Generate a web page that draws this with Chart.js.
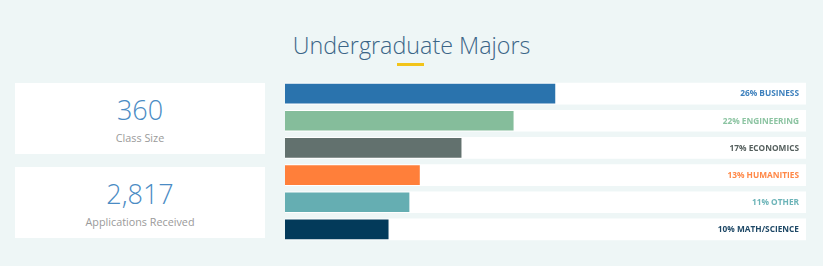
<!DOCTYPE html>
<html>
<head>
<meta charset="utf-8">
<script src="https://cdn.jsdelivr.net/npm/chart.js@4"></script>
<style>
  html, body { margin: 0; padding: 0; }
  body {
    width: 823px; height: 266px; background: #eef6f6; position: relative; overflow: hidden;
    font-family: "Open Sans", sans-serif;
  }
  .title {
    position: absolute; left: 0; width: 823px; top: 29px; text-align: center;
    font-size: 23.3px; font-weight: 300; color: #3b6587;
  }
  .underline { position: absolute; left: 397px; top: 63px; width: 27px; height: 3px; background: #f2c41a; }
  .card { position: absolute; left: 15px; width: 250px; height: 71px; background: #fff; text-align: center; }
  .card .num { font-size: 27px; font-weight: 300; color: #4a8bc4; margin-top: 10px; line-height: 34px; }
  .card .lbl { font-size: 10.8px; color: #9a9a9a; line-height: 16px; margin-top: 3px; }
  #chartBox { position: absolute; left: 285px; top: 80px; width: 521px; height: 163px; }
</style>
</head>
<body>
<div class="title">Undergraduate Majors</div>
<div class="underline"></div>
<div class="card" style="top:83px"><div class="num" id="stat0"></div><div class="lbl" id="statLbl0"></div></div>
<div class="card" style="top:167px"><div class="num" id="stat1"></div><div class="lbl" id="statLbl1"></div></div>
<div id="chartBox"><canvas id="majorsChart"></canvas></div>
<script>
// stats on the left
const statValues = ['360', '2,817'];
const statLabels = ['Class Size', 'Applications Received'];

// majors
const majors = ['BUSINESS', 'ENGINEERING', 'ECONOMICS', 'HUMANITIES', 'OTHER', 'MATH/SCIENCE'];
const percentLabels = ['26%', '22%', '17%', '13%', '11%', '10%'];
const barValues = [26, 22, 17, 13, 12, 10];
const trackValues = [50, 50, 50, 50, 50, 50];
const barColors = ['#2a73ad', '#85bd9b', '#62716e', '#ff7f3a', '#65aeb2', '#033a5a'];
const textColors = ['#3d80bd', '#8cc4a2', '#555f5d', '#ff8847', '#6cb4b8', '#1e4866'];

statValues.forEach((v, i) => {
    document.getElementById('stat' + i).textContent = v;
    document.getElementById('statLbl' + i).textContent = statLabels[i];
});

// right aligned labels inside each white row
const rowLabels = {
    id: 'rowLabels',
    afterDatasetsDraw(chart) {
        const ctx = chart.ctx;
        const x = chart.scales.x.getPixelForValue(50) - 7;
        ctx.save();
        ctx.font = '700 8.3px "Open Sans", sans-serif';
        ctx.textAlign = 'right';
        ctx.textBaseline = 'middle';
        majors.forEach((m, i) => {
            const y = chart.scales.y.getPixelForValue(i);
            ctx.fillStyle = textColors[i];
            ctx.fillText(percentLabels[i] + ' ' + m, x, y + 0.5);
        });
        ctx.restore();
    }
};

new Chart(document.getElementById('majorsChart'), {
    type: 'bar',
    data: {
        labels: majors,
        datasets: [{
            data: barValues,
            backgroundColor: barColors,
            borderColor: 'rgba(255,255,255,0.35)',
            borderWidth: 1,
            barThickness: 21,
            grouped: false,
            order: 1
        }, {
            data: trackValues,
            backgroundColor: '#ffffff',
            borderWidth: 0,
            barThickness: 21,
            grouped: false,
            order: 2
        }]
    },
    options: {
        indexAxis: 'y',
        responsive: true,
        maintainAspectRatio: false,
        animation: false,
        layout: { padding: 0 },
        plugins: { legend: { display: false }, tooltip: { enabled: false } },
        scales: {
            x: { display: false, min: 0, max: 50 },
            y: { display: false }
        }
    },
    plugins: [rowLabels]
});
</script>
</body>
</html>
